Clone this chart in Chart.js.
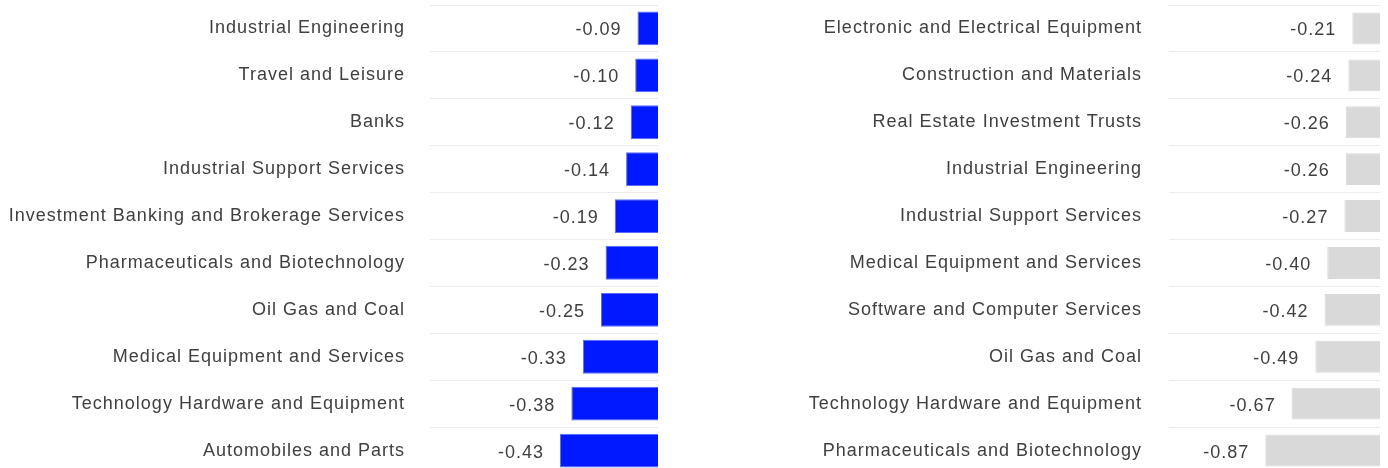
<!DOCTYPE html>
<html>
<head>
<meta charset="utf-8">
<script src="https://cdn.jsdelivr.net/npm/chart.js@4"></script>
<style>
  html, body { margin: 0; padding: 0; background: #fff; overflow: hidden; }
  .wrap { position: absolute; top: 0; width: 694px; height: 474px; }
  #leftWrap { left: 0; }
  #rightWrap { left: 694px; }
</style>
</head>
<body>
<div class="wrap" id="leftWrap"><canvas id="leftChart"></canvas></div>
<div class="wrap" id="rightWrap"><canvas id="rightChart"></canvas></div>
<script>
// Dados - painel esquerdo
const leftCategories = ['Industrial Engineering', 'Travel and Leisure', 'Banks', 'Industrial Support Services',
  'Investment Banking and Brokerage Services', 'Pharmaceuticals and Biotechnology', 'Oil Gas and Coal',
  'Medical Equipment and Services', 'Technology Hardware and Equipment', 'Automobiles and Parts'];
const leftValues = [-0.09, -0.10, -0.12, -0.14, -0.19, -0.23, -0.25, -0.33, -0.38, -0.43];

// Dados - painel direito
const rightCategories = ['Electronic and Electrical Equipment', 'Construction and Materials',
  'Real Estate Investment Trusts', 'Industrial Engineering', 'Industrial Support Services',
  'Medical Equipment and Services', 'Software and Computer Services', 'Oil Gas and Coal',
  'Technology Hardware and Equipment', 'Pharmaceuticals and Biotechnology'];
const rightValues = [-0.21, -0.24, -0.26, -0.26, -0.27, -0.40, -0.42, -0.49, -0.67, -0.87];

const textColor = '#404040';
const fontFamily = '"Liberation Sans", Arial, sans-serif';
const fontSize = 18;

// espaçamento entre letras, como no original
const spacing = {
  id: 'spacing',
  beforeInit(chart) { chart.ctx.letterSpacing = '1px'; },
  beforeLayout(chart) { chart.ctx.letterSpacing = '1px'; },
  beforeDraw(chart) { chart.ctx.letterSpacing = '1px'; }
};

// rótulos de valor à esquerda da barra
const valueLabels = {
  id: 'valueLabels',
  afterDatasetsDraw(chart) {
    const ctx = chart.ctx;
    ctx.save();
    ctx.font = fontSize + 'px ' + fontFamily;
    ctx.fillStyle = textColor;
    ctx.textAlign = 'right';
    ctx.textBaseline = 'middle';
    chart.getDatasetMeta(0).data.forEach((bar, i) => {
      const v = chart.data.datasets[0].data[i];
      ctx.fillText(v.toFixed(2), bar.x - 16, bar.y + 2);
    });
    ctx.restore();
  }
};

function makeChart(id, labels, values, color, border, xMin, axisWidth, padRight, labelPad, barPct) {
  return new Chart(document.getElementById(id), {
    type: 'bar',
    data: {
      labels: labels,
      datasets: [{
        data: values,
        backgroundColor: color,
        borderColor: border,
        borderWidth: 1,
        categoryPercentage: 1,
        barPercentage: barPct
      }]
    },
    options: {
      indexAxis: 'y',
      responsive: true,
      maintainAspectRatio: false,
      animation: false,
      layout: { padding: { top: 5, right: padRight, bottom: 0, left: 0 } },
      scales: {
        x: {
          min: xMin,
          max: 0,
          display: false
        },
        y: {
          grid: { color: '#ececec', drawTicks: false },
          border: { display: false },
          ticks: { color: textColor, padding: labelPad, font: { size: fontSize, family: fontFamily } },
          afterFit(scale) {
            scale.width = axisWidth;
            scale.paddingTop = 0;
            scale.paddingBottom = 0;
          }
        }
      },
      plugins: {
        legend: { display: false },
        tooltip: { enabled: false }
      }
    },
    plugins: [spacing, valueLabels]
  });
}

makeChart('leftChart', leftCategories, leftValues, '#0019ff', '#5a6cff', -1.0, 430, 36, 25, 0.72);
makeChart('rightChart', rightCategories, rightValues, '#d9d9d9', '#d9d9d9', -1.6, 475, 8, 27, 0.68);
</script>
</body>
</html>
